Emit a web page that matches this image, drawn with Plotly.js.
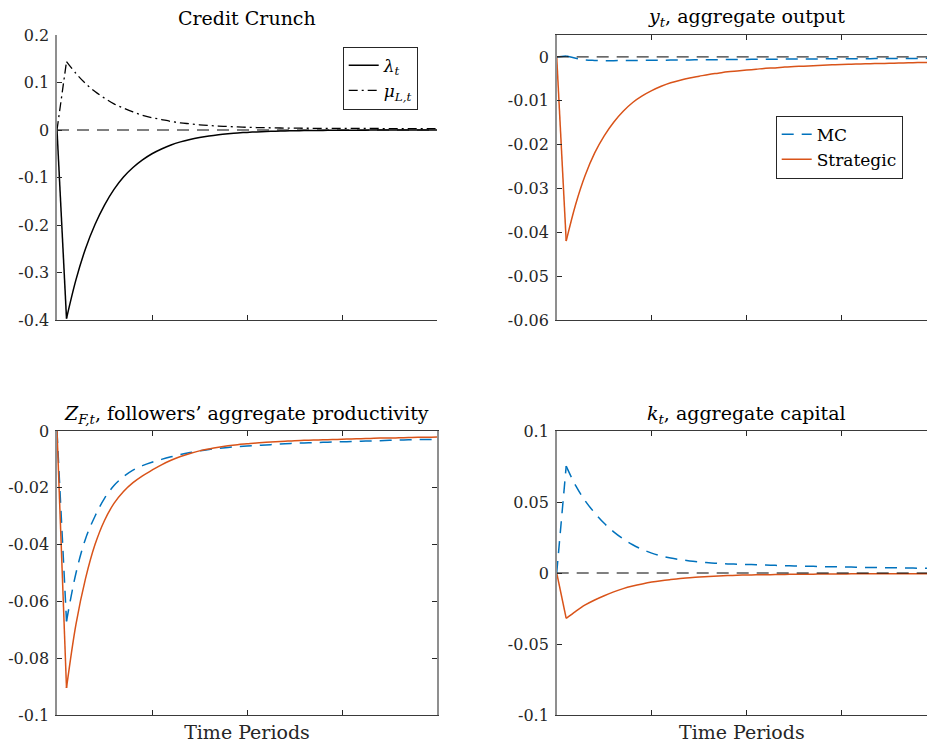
<!DOCTYPE html>
<html>
<head>
<meta charset="utf-8">
<script src="https://cdn.plot.ly/plotly-3.0.1.min.js"></script>
<style>
  html, body { margin: 0; padding: 0; background: #fff; overflow: hidden; }
  #fig { width: 927px; height: 747px; }
</style>
</head>
<body>
<div id="fig"></div>
<script>
// Impulse responses to a credit crunch, periods after the shock
const periods = [0, 1, 2, 3, 4, 5, 6, 7, 8, 9, 10, 11, 12, 13, 14, 15, 16, 17, 18, 19, 20,
                 21, 22, 23, 24, 25, 26, 27, 28, 29, 30, 31, 32, 33, 34, 35, 36, 37, 38, 39, 40];

// Credit crunch shock: lambda_t and mu_{L,t}
const lambdaShock = [0, -0.397, -0.315, -0.250, -0.199, -0.158, -0.125, -0.099, -0.079, -0.063, -0.050,
                     -0.040, -0.0315, -0.025, -0.0199, -0.0158, -0.0125, -0.0099, -0.0079, -0.0063, -0.005,
                     -0.004, -0.0032, -0.0025, -0.002, -0.0016, -0.0013, -0.001, -0.0008, -0.0006, -0.0005,
                     -0.0004, -0.0003, -0.00025, -0.0002, -0.00015, -0.00012, -0.0001, -0.00008, -0.00006, -0.00005];
const muLender = [0, 0.144, 0.119, 0.098, 0.081, 0.067, 0.055, 0.046, 0.038, 0.031, 0.026,
                  0.022, 0.018, 0.015, 0.013, 0.011, 0.0095, 0.0083, 0.0073, 0.0064, 0.0057,
                  0.0052, 0.0048, 0.0044, 0.0041, 0.0039, 0.0037, 0.0036, 0.0035, 0.0034, 0.0033,
                  0.0033, 0.0032, 0.0032, 0.0031, 0.0031, 0.0031, 0.0030, 0.0030, 0.0030, 0.0030];

// y_t, aggregate output
const outputMC = [0, 0.0002, -0.0003, -0.0007, -0.0008, -0.00085, -0.00085, -0.00083, -0.0008, -0.00078, -0.00076,
                  -0.00074, -0.00072, -0.0007, -0.00068, -0.00066, -0.00064, -0.00062, -0.0006, -0.00058, -0.00056,
                  -0.00055, -0.00053, -0.00052, -0.0005, -0.00049, -0.00047, -0.00046, -0.00045, -0.00043, -0.00042,
                  -0.00041, -0.0004, -0.00039, -0.00038, -0.00037, -0.00036, -0.00035, -0.00034, -0.00033, -0.00032];
const outputStrategic = [0, -0.042, -0.0336, -0.0270, -0.0219, -0.0180, -0.0149, -0.0124, -0.0104, -0.0089, -0.0077,
                         -0.0067, -0.0059, -0.0053, -0.0048, -0.0044, -0.0040, -0.0037, -0.0034, -0.0032, -0.0030,
                         -0.0028, -0.0026, -0.0025, -0.0023, -0.0022, -0.0021, -0.0020, -0.0019, -0.0018, -0.0017,
                         -0.00165, -0.0016, -0.00155, -0.0015, -0.00145, -0.0014, -0.00135, -0.0013, -0.00125, -0.0012];

// Z_{F,t}, followers' aggregate productivity
const prodMC = [0, -0.067, -0.050, -0.038, -0.030, -0.0237, -0.0192, -0.0161, -0.0138, -0.0122, -0.0110,
                -0.0100, -0.0091, -0.0083, -0.0076, -0.0070, -0.0065, -0.0061, -0.0058, -0.0055, -0.0053,
                -0.0051, -0.0049, -0.0047, -0.0045, -0.0043, -0.0042, -0.0041, -0.0040, -0.0039, -0.0038,
                -0.0037, -0.0036, -0.0035, -0.0034, -0.0033, -0.0032, -0.0031, -0.0030, -0.0030, -0.0029];
const prodStrategic = [0, -0.0905, -0.068, -0.052, -0.040, -0.0315, -0.0255, -0.0213, -0.0182, -0.0158, -0.0138,
                       -0.0119, -0.0103, -0.0090, -0.0079, -0.0070, -0.0063, -0.0057, -0.0052, -0.0048, -0.0045,
                       -0.0042, -0.0040, -0.0038, -0.0036, -0.0034, -0.0033, -0.0032, -0.0031, -0.0030, -0.0029,
                       -0.0028, -0.0027, -0.0026, -0.0025, -0.0025, -0.0024, -0.0023, -0.0022, -0.0022, -0.0021];

// k_t, aggregate capital
const capitalMC = [0, 0.0753, 0.0615, 0.0508, 0.0423, 0.0350, 0.0290, 0.0240, 0.0199, 0.0166, 0.0140,
                   0.0120, 0.0105, 0.0094, 0.0085, 0.0078, 0.0072, 0.0068, 0.0064, 0.0062, 0.0060,
                   0.0058, 0.0056, 0.0054, 0.0052, 0.0050, 0.0048, 0.0047, 0.0045, 0.0044, 0.0043,
                   0.0042, 0.0040, 0.0039, 0.0038, 0.0037, 0.0036, 0.0035, 0.0034, 0.0033, 0.0033];
const capitalStrategic = [0, -0.032, -0.027, -0.0225, -0.019, -0.016, -0.0133, -0.011, -0.0092, -0.0077, -0.0064,
                          -0.0054, -0.0046, -0.0039, -0.0033, -0.0028, -0.0024, -0.0021, -0.0018, -0.0016, -0.0014,
                          -0.0013, -0.0012, -0.0011, -0.0010, -0.0009, -0.00085, -0.0008, -0.00075, -0.0007, -0.00065,
                          -0.0006, -0.0006, -0.00055, -0.00055, -0.0005, -0.0005, -0.0005, -0.00045, -0.00045, -0.0004];

// Steady-state reference (zero deviation) between first and last period
const baselineX = [0, 40];
const baselineY = [0, 0];

// Axis ticks and their labels
const periodTicks = [0, 10, 20, 30, 40];
const shockTicks = [-0.4, -0.3, -0.2, -0.1, 0, 0.1, 0.2];
const shockTickText = ['-0.4', '-0.3', '-0.2', '-0.1', '0', '0.1', '0.2'];
const outputTicks = [-0.06, -0.05, -0.04, -0.03, -0.02, -0.01, 0];
const outputTickText = ['-0.06', '-0.05', '-0.04', '-0.03', '-0.02', '-0.01', '0'];
const prodTicks = [-0.1, -0.08, -0.06, -0.04, -0.02, 0];
const prodTickText = ['-0.1', '-0.08', '-0.06', '-0.04', '-0.02', '0'];
const capitalTicks = [-0.1, -0.05, 0, 0.05, 0.1];
const capitalTickText = ['-0.1', '-0.05', '0', '0.05', '0.1'];

const SERIF = 'DejaVu Serif';
const BLUE = '#0072BD';
const ORANGE = '#D95319';
const W = 927, H = 747;

// pixel helpers for panel placement
const px = (a, b) => [a / W, b / W];
const py = (top, bottom) => [1 - bottom / H, 1 - top / H];

function xAxis(domain, range, anchor, mirror, title) {
  const ax = {
    domain: domain, range: range, anchor: anchor,
    tickvals: periodTicks, showticklabels: false,
    ticks: 'inside', ticklen: 5, tickwidth: 1, tickcolor: '#262626',
    showline: true, linecolor: '#3a3a3a', linewidth: 1,
    mirror: mirror, showgrid: false, zeroline: false, fixedrange: true
  };
  if (title) {
    ax.title = { text: title, font: { family: SERIF, size: 19, color: '#262626' }, standoff: 10 };
  }
  return ax;
}

function yAxis(domain, range, anchor, vals, text, mirror) {
  return {
    domain: domain, range: range, anchor: anchor,
    tickvals: vals, ticktext: text,
    ticks: 'inside', ticklen: 5, tickwidth: 1, tickcolor: '#262626',
    tickfont: { family: SERIF, size: 16, color: '#262626' },
    ticklabelstandoff: 3,
    showline: true, linecolor: '#8f8f8f', linewidth: 1.6,
    mirror: mirror, showgrid: false, zeroline: false, fixedrange: true
  };
}

// An impulse response: the jump on impact as a straight segment,
// the recovery from period 1 onward as a smooth curve.
function irf(y, axes, name, line, legend) {
  const jump = {
    x: periods.slice(0, 2), y: y.slice(0, 2), xaxis: axes[0], yaxis: axes[1],
    mode: 'lines', line: line, showlegend: false, legendgroup: name + axes[0]
  };
  const path = {
    x: periods.slice(1), y: y.slice(1), xaxis: axes[0], yaxis: axes[1],
    mode: 'lines', line: Object.assign({ shape: 'spline', smoothing: 1 }, line),
    name: name, legendgroup: name + axes[0], showlegend: !!legend
  };
  if (legend) path.legend = legend;
  return [jump, path];
}

function baseline(axes) {
  return { x: baselineX, y: baselineY, xaxis: axes[0], yaxis: axes[1], mode: 'lines',
           showlegend: false, line: { color: '#000', width: 1, dash: '12px,8px' } };
}

const rightRange = [0, (W - 556.7) / 9.5];
const solidBlack = { color: '#000', width: 1.5 };
const dashDotBlack = { color: '#000', width: 1.3, dash: '9px,4px,2px,4px' };
const dashedBlue = { color: BLUE, width: 1.5, dash: '12px,8px' };
const solidOrange = { color: ORANGE, width: 1.5 };

const traces = [].concat(
  // Credit Crunch
  irf(lambdaShock, ['x', 'y'], '<i>λ</i><sub><i>t</i></sub>', solidBlack, 'legend'),
  irf(muLender, ['x', 'y'], '<i>μ</i><sub><i>L,t</i></sub>', dashDotBlack, 'legend'),
  [baseline(['x', 'y'])],
  // aggregate output
  irf(outputMC, ['x2', 'y2'], 'MC', dashedBlue, 'legend2'),
  irf(outputStrategic, ['x2', 'y2'], 'Strategic', solidOrange, 'legend2'),
  [baseline(['x2', 'y2'])],
  // followers' productivity
  irf(prodMC, ['x3', 'y3'], 'MC', dashedBlue),
  irf(prodStrategic, ['x3', 'y3'], 'Strategic', solidOrange),
  // aggregate capital
  irf(capitalMC, ['x4', 'y4'], 'MC', dashedBlue),
  irf(capitalStrategic, ['x4', 'y4'], 'Strategic', solidOrange),
  [baseline(['x4', 'y4'])]
);

const titleFont = { family: SERIF, size: 19, color: '#000' };
function panelTitle(text, xc, yc) {
  return { text: text, xref: 'paper', yref: 'paper', x: xc / W, y: 1 - yc / H,
           xanchor: 'center', yanchor: 'middle', showarrow: false, font: titleFont };
}

const legendStyle = {
  font: { family: SERIF, size: 17, color: '#000' },
  bgcolor: '#fff', bordercolor: '#262626', borderwidth: 1,
  xanchor: 'left', yanchor: 'top', tracegroupgap: 0, itemwidth: 30
};

const layout = {
  width: W, height: H,
  margin: { l: 0, r: 0, t: 0, b: 0 },
  paper_bgcolor: '#fff', plot_bgcolor: '#fff',
  font: { family: SERIF, color: '#262626' },
  showlegend: true,
  xaxis:  xAxis(px(57, 437), [0, 40], 'y', false),
  yaxis:  yAxis(py(35, 320), [-0.4, 0.2], 'x', shockTicks, shockTickText, false),
  xaxis2: xAxis(px(556.7, W), rightRange, 'y2', 'ticks'),
  yaxis2: yAxis(py(35, 320), [-0.06, 0.005], 'x2', outputTicks, outputTickText, false),
  xaxis3: xAxis(px(57, 437), [0, 40], 'y3', 'ticks', 'Time Periods'),
  yaxis3: yAxis(py(431, 715), [-0.1, 0], 'x3', prodTicks, prodTickText, 'ticks'),
  xaxis4: xAxis(px(556.7, W), rightRange, 'y4', 'ticks', 'Time Periods'),
  yaxis4: yAxis(py(431, 715), [-0.1, 0.1], 'x4', capitalTicks, capitalTickText, false),
  legend:  Object.assign({}, legendStyle, { x: 342.7 / W, y: 1 - 46.7 / H }),
  legend2: Object.assign({}, legendStyle, { x: 775.7 / W, y: 1 - 115.7 / H }),
  annotations: [
    panelTitle('Credit Crunch', 247, 18),
    panelTitle('<i>y</i><sub><i>t</i></sub>, aggregate output', 746.7, 18),
    panelTitle('<i>Z</i><sub><i>F,t</i></sub>, followers’ aggregate productivity', 246.7, 414),
    panelTitle('<i>k</i><sub><i>t</i></sub>, aggregate capital', 746.7, 414)
  ]
};

Plotly.newPlot('fig', traces, layout, { staticPlot: true, displayModeBar: false });
</script>
</body>
</html>
